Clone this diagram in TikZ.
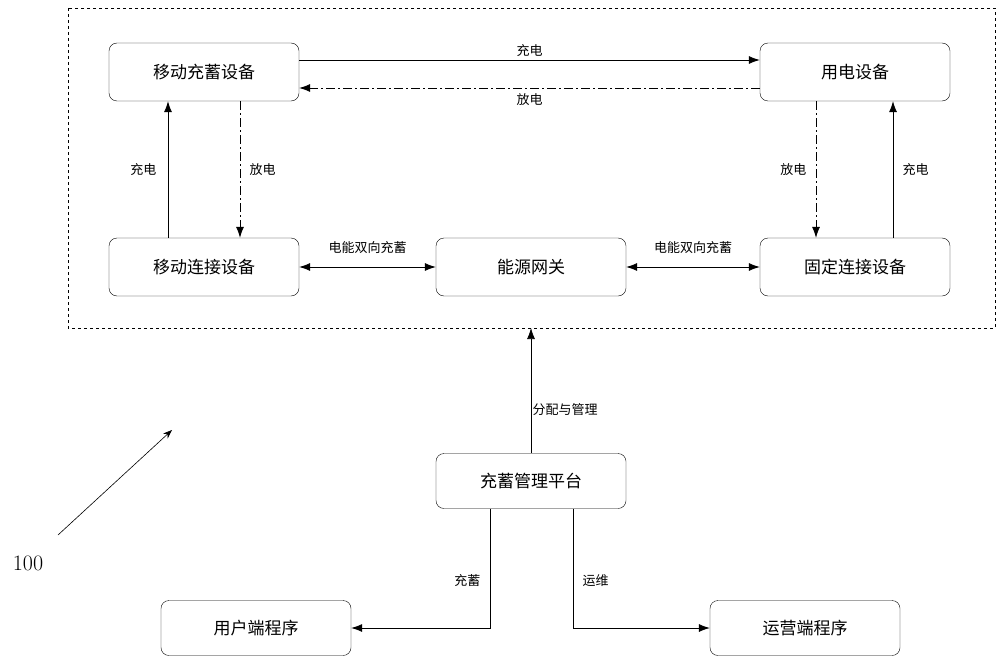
\documentclass[tikz,border=0pt]{standalone}
\usepackage{fontspec}
\newfontfamily\cjk{Noto Sans CJK SC}
\usetikzlibrary{arrows.meta}
\begin{document}
\begin{tikzpicture}[x=1pt,y=-1pt,
 box/.style={draw,rounded corners=8pt,minimum width=190pt,minimum height=58pt,font=\cjk\fontsize{17}{20}\selectfont},
 lab/.style={font=\cjk\fontsize{13}{15}\selectfont},
 arr/.style={-{Latex[length=11pt,width=8pt]},line width=0.7pt},
 darr/.style={{Latex[length=11pt,width=8pt]}-{Latex[length=11pt,width=8pt]},line width=0.7pt},
 dd/.style={dash pattern=on 9pt off 3pt on 2pt off 3pt}]
\useasboundingbox (0,0) rectangle (1000,666);
\draw[dashed,line width=0.6pt] (68,8) rectangle (995,328);
\node[box] (ms) at (204,72) {移动充蓄设备};
\node[box] (ud) at (855,72) {用电设备};
\node[box] (mc) at (204,267) {移动连接设备};
\node[box] (gw) at (531,267) {能源网关};
\node[box] (fc) at (855,267) {固定连接设备};
\node[box,minimum height=55pt] (pf) at (531,481) {充蓄管理平台};
\node[box,minimum height=55pt] (up) at (256,628) {用户端程序};
\node[box,minimum height=55pt] (op) at (805,628) {运营端程序};
\coordinate (fb) at (531,328);
\draw[arr] (ms.east|-0,60) -- (ud.west|-0,60) node[midway,above,lab]{充电};
\draw[arr,dd] (ud.west|-0,88) -- (ms.east|-0,88) node[midway,below=2pt,lab]{放电};
\draw[arr] (mc.north-|168,0) -- (ms.south-|168,0) node[midway,left=8pt,lab]{充电};
\draw[arr,dd] (ms.south-|240,0) -- (mc.north-|240,0) node[midway,right=6pt,lab]{放电};
\draw[arr,dd] (ud.south-|816,0) -- (fc.north-|816,0) node[midway,left=6pt,lab]{放电};
\draw[arr] (fc.north-|893,0) -- (ud.south-|893,0) node[midway,right=6pt,lab]{充电};
\draw[darr] (mc) -- (gw) node[midway,above=10pt,lab]{电能双向充蓄};
\draw[darr] (gw) -- (fc) node[midway,above=10pt,lab]{电能双向充蓄};
\draw[arr] (pf) -- (fb) node[pos=0.35,right=-2pt,lab]{分配与管理};
\draw[arr] (pf.south-|490,0) |- (up) node[pos=0.3,left=6pt,lab]{充蓄};
\draw[arr] (pf.south-|573,0) |- (op) node[pos=0.3,right=6pt,lab]{运维};
\node[font=\fontsize{22}{24}\selectfont] (hl) at (28,563) {100};
\coordinate (ht) at (172,430);
\draw[-{Stealth[length=9pt]},line width=0.6pt] (58,535) -- (ht);
\end{tikzpicture}
\end{document}
